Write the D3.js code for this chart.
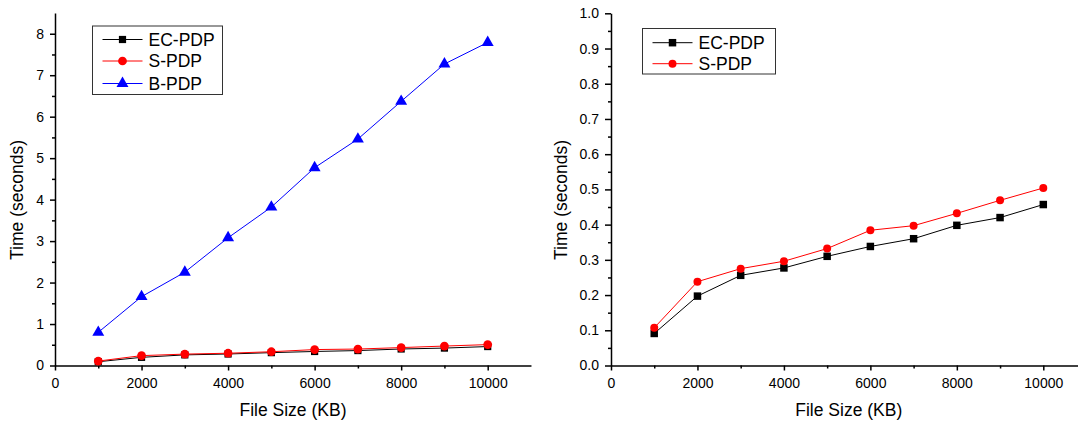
<!DOCTYPE html>
<html>
<head>
<meta charset="utf-8">
<script src="https://cdn.jsdelivr.net/npm/d3@7"></script>
<style>
  body { margin: 0; background: #fff; }
  svg { display: block; font-family: Arial, "Liberation Sans", sans-serif; }
</style>
</head>
<body>
<script>
// file sizes (KB) shared by all series
const sizes = [1000, 2000, 3000, 4000, 5000, 6000, 7000, 8000, 9000, 10000]

// times in seconds
const ecPdp = [0.091, 0.197, 0.256, 0.277, 0.310, 0.338, 0.360, 0.398, 0.420, 0.457]
const sPdp  = [0.107, 0.238, 0.275, 0.296, 0.332, 0.384, 0.397, 0.432, 0.469, 0.504]
const bPdp  = [0.80, 1.66, 2.25, 3.08, 3.82, 4.77, 5.46, 6.37, 7.27, 7.79]

const xTicks = [0, 2000, 4000, 6000, 8000, 10000]
const xMinor = [1000, 3000, 5000, 7000, 9000]
const leftYTicks = [0, 1, 2, 3, 4, 5, 6, 7, 8]
const rightYTicks = [0, 0.1, 0.2, 0.3, 0.4, 0.5, 0.6, 0.7, 0.8, 0.9, 1.0]

const seriesStyle = {
  'EC-PDP': { color: '#000', marker: 'square' },
  'S-PDP':  { color: '#f00', marker: 'circle' },
  'B-PDP':  { color: '#00f', marker: 'triangle' }
}

const width = 1078
const height = 423

const svg = d3.select('body').append('svg')
    .attr('width', width)
    .attr('height', height)

function marker (g, type, color, big) {
  let sym
  if (type === 'square') sym = d3.symbol(d3.symbolSquare, big ? 56 : 52)
  else if (type === 'circle') sym = d3.symbol(d3.symbolCircle, big ? 50 : 60)
  else sym = d3.symbol(d3.symbolTriangle, 62)
  return g.append('path')
      .attr('d', sym())
      .attr('fill', color)
      .attr('stroke', 'none')
}

function drawPanel (p) {
  const x = d3.scaleLinear().domain([0, 11000]).range([p.x0, p.x0 + 1.1 * p.xw])
  const y = d3.scaleLinear().domain([0, p.ymax]).range([365.5, p.ytop])
  const g = svg.append('g')

  // x axis
  g.append('g')
      .attr('transform', 'translate(0,365.5)')
      .call(d3.axisBottom(x).tickValues(xTicks).tickSize(5).tickPadding(8)
        .tickFormat(d3.format('d')).tickSizeOuter(0))
  g.append('g')
      .attr('transform', 'translate(0,365.5)')
      .call(d3.axisBottom(x).tickValues(xMinor).tickSize(3).tickFormat('').tickSizeOuter(0))
      .select('.domain').remove()

  // y axis
  g.append('g')
      .attr('transform', `translate(${p.x0},0)`)
      .call(d3.axisLeft(y).tickValues(p.yTicks).tickSize(p.tick).tickPadding(6)
        .tickFormat(p.fmt).tickSizeOuter(0))
  g.append('g')
      .attr('transform', `translate(${p.x0},0)`)
      .call(d3.axisLeft(y).tickValues(p.yMinor).tickSize(3).tickFormat('').tickSizeOuter(0))
      .select('.domain').remove()

  g.selectAll('.domain, .tick line').attr('stroke', '#000').attr('stroke-width', 1.5)
  g.selectAll('.tick text').attr('font-size', 14).attr('fill', '#000')
      .attr('font-family', 'Arial, "Liberation Sans", sans-serif')

  // titles
  g.append('text')
      .attr('x', (x(0) + x(11000)) / 2)
      .attr('y', 416)
      .attr('text-anchor', 'middle')
      .attr('font-size', 17.5)
      .text('File Size (KB)')
  g.append('text')
      .attr('transform', `translate(${p.ytx},200) rotate(-90)`)
      .attr('text-anchor', 'middle')
      .attr('dy', '0.35em')
      .attr('font-size', 17.5)
      .text('Time (seconds)')

  // series
  const line = d3.line().x(d => x(d[0])).y(d => y(d[1]))
  for (let s of p.series) {
    let st = seriesStyle[s.name]
    let pts = sizes.map((v, i) => [v, s.values[i]])
    g.append('path')
        .datum(pts)
        .attr('d', line)
        .attr('fill', 'none')
        .attr('stroke', st.color)
        .attr('stroke-width', 1)
    for (let pt of pts) {
      marker(g, st.marker, st.color, p.big)
          .attr('transform', `translate(${x(pt[0])},${y(pt[1])})`)
    }
  }

  // legend
  const L = p.legend
  g.append('rect')
      .attr('x', L.x).attr('y', L.y)
      .attr('width', L.w).attr('height', L.h)
      .attr('fill', '#fff')
      .attr('stroke', '#333')
      .attr('stroke-width', 1)
  p.series.forEach((s, i) => {
    let st = seriesStyle[s.name]
    let ry = L.rows[i]
    g.append('line')
        .attr('x1', L.x + 10).attr('x2', L.x + 50)
        .attr('y1', ry).attr('y2', ry)
        .attr('stroke', st.color).attr('stroke-width', 1)
    marker(g, st.marker, st.color, p.big)
        .attr('transform', `translate(${L.x + 30},${ry})`)
    g.append('text')
        .attr('x', L.x + 56)
        .attr('y', ry)
        .attr('dy', '0.36em')
        .attr('font-size', 17.5)
        .text(s.name)
  })
}

drawPanel({
  x0: 55, xw: 432.7, ytop: 13, ymax: 8.5, tick: 5, ytx: 17,
  yTicks: leftYTicks, yMinor: d3.range(0.5, 8.5, 1), fmt: d3.format('d'),
  series: [
    { name: 'EC-PDP', values: ecPdp },
    { name: 'S-PDP', values: sPdp },
    { name: 'B-PDP', values: bPdp }
  ],
  legend: { x: 92.5, y: 26, w: 130, h: 68.5, rows: [39.5, 61, 83.5] },
  big: false
})

drawPanel({
  x0: 611, xw: 432.3, ytop: 13.3, ymax: 1.0, tick: 6, ytx: 561,
  yTicks: rightYTicks, yMinor: d3.range(0.05, 1.0, 0.1), fmt: d3.format('.1f'),
  series: [
    { name: 'EC-PDP', values: ecPdp },
    { name: 'S-PDP', values: sPdp }
  ],
  legend: { x: 642.5, y: 28.5, w: 133, h: 45.5, rows: [42.7, 63.7] },
  big: true
})
</script>
</body>
</html>
